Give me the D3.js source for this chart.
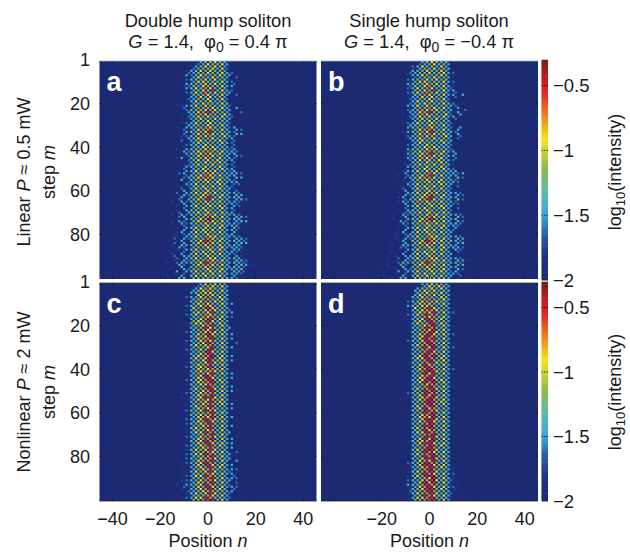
<!DOCTYPE html>
<html><head><meta charset="utf-8">
<script src="https://cdnjs.cloudflare.com/ajax/libs/d3/7.8.5/d3.min.js"></script>
<style>html,body{margin:0;background:#fff}svg{display:block}text{font-family:"Liberation Sans",Arial,sans-serif;fill:#1a1a1a}</style>
</head><body><div id="c"></div>
<script>
// Each row lists the lit cells of that step m (the pattern is a checkerboard):
// even m: n = -18,-16,...  odd m: n = -19,-17,...  Digit = intensity level.
const rowsA = [
"00000000345643000000","00000002365463000000","00000013564653100000","00000023546362000000","00000134656543000000",
"00000235365463200000","00000324653564300000","00001036546453020000","00000245364635100000","00000036645463200000",
"00000345465643020000","00001253674563300000","00000346476354000000","00000035658463200000","00000236475634300000",
"00000154763563020000","00000033646453000000","00000235463562000000","00000136546343000000","00000034654564100000",
"00001346365435200000","00002035476463030000","00000245764653300000","00000336587453002000","00001035764536300000",
"00000246465463200000","00000134653654300000","00000035465343000000","00001236546453200000","00000345365463000000",
"00010345476534230000","00002036575463032000","00000354768453320000","00002036476564043000","00001245765346320000",
"00000346356453300000","00002034645563020000","00000136454364200000","00000235365343020000","00001034656453200000",
"00010354465634230000","00003246575463320000","00000345676563340000","00001236476454032000","00013045765363320000",
"00000246465643300000","00000035364564020000","00001246546353200000","00000345365463020000","00002034654563300000",
"00010346365634230000","00023035476453332000","00010245676463340000","00002346576354043000","00003045765463320000",
"00001235564653330000","00000336345464022000","00010245656353200000","00002036464563310000","00003045365453020000",
"00020346465634332000","00013245675463043000","00003054678463343000","00020346586354034200","00103245764563332000",
"00003045465453320000","00010346356564032000","00002035645463300000","00010345465353020000","00020346364564300000",
"00103245465634332000","00024035576463043200","00010354678453343000","00032046476564034300","00103245764653332000",
"00002035465463330000","00010346364564042000","00003045656353320000","00013046465463031000","00102335365453310000",
"00010346456634332000","00203245576463043200","00013054687563343200","00203046576454034300","00104345765363343000",
"00032035465463332000","00010346356564043100","00002045646353321000","00103046465463320000","00203345365453031000",
"00020346456634343100","00103245576463043200","01024354687453343200","00032046576564034310","00104035765453343200",
"01003245465463334100","00030346356564143200","00102045646353332000","01003046465463031000","00033045365453320000"];
const rowsB = [
"00000000356534000000","00000002346453000000","00000023645463000000","00000103546354000000","00000034565463000000",
"00000235464563200000","00000134653564000000","00000023546453100000","00000245364635000000","00000136645463200000",
"00000345465643000000","00000253674563100000","00000236476354200000","00000035658463300000","00000246475634020000",
"00000154763563303000","00000133646453020000","00000235463562000000","00000036546343100000","00000234654564200000",
"00000346365435320000","00000135476463030000","00000245764653300200","00000336587453040000","00001035764536203000",
"00000246465463300000","00000134653654020000","00000035465343000000","00001236546453200000","00000345365463000000",
"00000345476534203000","00000136575463030000","00001354768453320000","00001036476564040000","00000245765346302000",
"00001346356453020000","00000034645563300000","00000136454364000000","00000235365343200000","00000034656453000000",
"00000354465634200000","00001246575463300000","00000345678563030000","00001236476454300000","00000345765363020000",
"00000246465643200000","00000035364564000000","00001246546353100000","00000345365463000000","00001034654563200000",
"00001346365634330000","00003035476453323000","00010245678463330000","00002346576354042000","00001045765463320000",
"00001235564653320000","00000336345464300000","00010245656353020000","00002036464563200000","00003045365453000000",
"00010346465634332000","00003245675463032000","00013054678463330000","00002346586354042000","00013245764563320000",
"00003045465453220000","00000346356564300000","00002035645463020000","00010345465353200000","00002346364564010000",
"00103245465634332000","00014035576463042000","00100354678453340000","00032046476564032000","00003245764653342000",
"00002035465463320000","00010346364564031000","00003045656353200000","00013046465463300000","00102335365453010000",
"00010346456634332000","00103245576463043000","00013054687563432000","01003046576454034000","00104345765363330000",
"00022035465463332000","00010346356564032000","01002045646353020000","00103046465463300000","00103345365453010000",
"01020346456634332000","00103245576463043100","00024354687453342000","10032046576564034000","01004035765453330000",
"00103245465463042000","10030346356564231000","00102045646353320000","10003046465463302000","01033045365453010000"];
const rowsC = [
"00000000364653000000","00000012456363000000","00000013646543000000","00000035675463000000","00000034566453000000",
"00000016576543000000","00000243655364000000","00000035475463000000","00000145674653000000","00000036567463300000",
"00000245676354000000","00000063586453000000","00000135467653200000","00000046568463300000","00000236576534000000",
"00000143567463200000","00000034678563000000","00000056486453000000","00000136675364000000","00000145678463000000",
"00001034586543300000","00000045768463000000","00000243567654000000","00000036586463300000","00000045768534000000",
"00000036578463300000","00000243676534000000","00000035687463020000","00000146567354000000","00000045568463300000",
"00000234658534000000","00000035486463000000","00000143678543000000","00000046578563300000","00000036568364000000",
"00000054687463300000","00000143568654000000","00000036574563000000","00000245678434000000","00000036567463000000",
"00000035657653000000","00000145768463300000","00000034687543000000","00000036586453300000","00000245678564000000",
"00000036578463000000","00000143667534000000","00000045587463300000","00000036578654000000","00000043678463300000",
"00001245657534000000","00000036758463000000","00001034688654000000","00000146567463000000","00000035768564000000",
"00000043657463300000","00000136578534000000","00000036567453300000","00000245687634000000","00000034578463000000",
"00000145657543000000","00000036768463300000","00000243687654000000","00000036586463000000","00000245678534000000",
"00000034657463300000","00000146578354000000","00000045567463000000","00000136687543300000","00000034578463000000",
"00000243657654000000","00000036758463300000","00000145687534000000","00000036486463300000","00000235678564000000",
"00000034657453300000","00000146568634000000","00000035576463020000","00000236687543300000","00000054578463000000",
"00000243657654300000","00000036758463030000","00001245687534000000","00000136486463300000","00001035678564000000",
"00000034657453320000","00000146568634200000","00000035576463300000","00001236687543020000","00000054578463320000",
"00001243657654300000","00000136758463020000","00010345687534200000","00002136486463320000","00001035678564020000",
"00000234657453300000","00000146568634200000","00000035576463000000","00001236687543200000","00000054578463000000"];
const rowsD = [
"00000000346543000000","00000000364653000000","00000003546463000000","00000034656354000000","00000004565463000000",
"00000036476543000000","00000043654365000000","00000025475463000000","00000245674653000000","00000036567463000000",
"00000345665354000000","00000063786453100000","00000135677653000000","00000036768463200000","00000236587534000000",
"00000043767463000000","00000134687563100000","00000056487453000000","00000036578364000000","00000135678463100000",
"00000034587543000000","00000145768463000000","00000043578654000000","00000036786463200000","00000045687534000000",
"00000036878463000000","00000243687534000000","00000135787463100000","00000046578354000000","00000035868463200000",
"00000034578534000000","00000135786463000000","00000043587543000000","00000046878563100000","00000036687364000000",
"00000054787463000000","00000043578654000000","00000136864563000000","00000045587434000000","00000036787463200000",
"00000035588653000000","00000045868463100000","00000034678543000000","00000036786453000000","00000045688564000000",
"00000136878463000000","00000043567534000000","00000045787463100000","00000036578654000000","00000043878463000000",
"00000245587534000000","00000036868463000000","00000134678654000000","00000046787463100000","00000035588564000000",
"00000043787463000000","00000036578534000000","00000036867453100000","00000045587634000000","00000034878463000000",
"00000145678543000000","00000036768463000000","00000043688654000000","00000136786463100000","00000045578534000000",
"00000034887463000000","00000046578354000000","00000045867463000000","00000036687543100000","00000034778463000000",
"00000043588654000000","00000036868463000000","00000145678534000000","00000036886463100000","00000035578564000000",
"00000034787453000000","00000046588634000000","00000135876463000000","00000036578543100000","00000054878463000000",
"00000043688654100000","00000036768463000000","00000245587534000000","00000136886463000000","00000035678564100000",
"00000034787453100000","00000146578634000000","00000035876463200000","00000136588543000000","00000054768463100000",
"00000243678654200000","00000036868463010000","00000345587534100000","00000136786463200000","00000035688564010000",
"00000234787453100000","00000146578634200000","00000035876463000000","00000136678543100000","00000054778463000000"];

const levelValues = [-2,-1.8,-1.62,-1.47,-1.3,-1.15,-0.93,-0.75,-0.55,-0.42];
const positionN = d3.range(-45,46);
const stepsM = d3.range(1,101);
const xTicks = [-40,-20,0,20,40], xTicksRight = [-20,0,20,40];
const yTicks = [1,20,40,60,80];
const cbTicks = [-0.5,-1,-1.5,-2];
const cbStops = [-2,-1.82,-1.65,-1.5,-1.32,-1.15,-1.0,-0.92,-0.75,-0.55,-0.42,-0.31];
const cbColors = ["#1b2a72","#1f3384","#2a5fa8","#37a9dc","#5cbaa6","#8cb94c","#cfd62c","#f6e51c","#f0891f","#e01f26","#b81c22","#6f1a1a"];
const color = d3.scaleLinear().domain(cbStops).range(cbColors).clamp(true);

const svg = d3.select("#c").append("svg").attr("width",630).attr("height",552);
const defs = svg.append("defs");

const xL=[99.5,321], xW=217, yT=[61,283], yH=218;
const panels=[
 {rows:rowsA,c:0,r:0,label:"a"},{rows:rowsB,c:1,r:0,label:"b"},
 {rows:rowsC,c:0,r:1,label:"c"},{rows:rowsD,c:1,r:1,label:"d"}];

panels.forEach((p,i)=>{
  const x=d3.scaleBand().domain(positionN).range([xL[p.c],xL[p.c]+xW]);
  const y=d3.scaleBand().domain(stepsM).range([yT[p.r],yT[p.r]+yH]);
  const xl=d3.scaleLinear().domain([-45.5,45.5]).range(x.range());
  const yl=d3.scaleLinear().domain([0.5,100.5]).range(y.range());
  const cells=[];
  p.rows.forEach((s,ri)=>{
    const m=ri+1, start=m%2===0?-18:-19;
    [...s].forEach((ch,k)=>{ if(+ch>0) cells.push({n:start+2*k,m,v:levelValues[+ch]}); });
  });
  const id="clip"+i;
  defs.append("clipPath").attr("id",id).append("rect")
    .attr("x",xL[p.c]).attr("y",yT[p.r]).attr("width",xW).attr("height",yH);
  const g=svg.append("g");
  g.append("rect").attr("x",xL[p.c]).attr("y",yT[p.r]).attr("width",xW).attr("height",yH).attr("fill",color(-2));
  g.append("g").attr("clip-path",`url(#${id})`)
    .selectAll("rect").data(cells).join("rect")
    .attr("x",d=>x(d.n)).attr("y",d=>y(d.m))
    .attr("width",x.bandwidth()).attr("height",y.bandwidth())
    .attr("fill",d=>color(d.v));
  const bot=yT[p.r]+yH, right=xL[p.c]+xW;
  g.append("g").selectAll("line").data(xTicks).join("line")
    .attr("x1",d=>xl(d)).attr("x2",d=>xl(d)).attr("y1",bot).attr("y2",bot-2)
    .attr("stroke","#111").attr("stroke-width",0.8);
  g.append("g").selectAll("line").data(xTicks).join("line")
    .attr("x1",d=>xl(d)).attr("x2",d=>xl(d)).attr("y1",yT[p.r]).attr("y2",yT[p.r]+2)
    .attr("stroke","#111").attr("stroke-width",0.8);
  g.append("g").selectAll("line").data(yTicks).join("line")
    .attr("x1",xL[p.c]).attr("x2",xL[p.c]+2).attr("y1",d=>yl(d)).attr("y2",d=>yl(d))
    .attr("stroke","#111").attr("stroke-width",0.8);
  g.append("g").selectAll("line").data(yTicks).join("line")
    .attr("x1",right-2).attr("x2",right).attr("y1",d=>yl(d)).attr("y2",d=>yl(d))
    .attr("stroke","#111").attr("stroke-width",0.8);
  g.append("line").attr("x1",xL[p.c]).attr("x2",right).attr("y1",yT[p.r]).attr("y2",yT[p.r]).attr("stroke",p.r?"#333":"#aab").attr("stroke-width",0.8);
  if(p.r===1) g.append("line").attr("x1",xL[p.c]).attr("x2",right).attr("y1",bot).attr("y2",bot).attr("stroke","#222").attr("stroke-width",0.8);
  g.append("text").attr("x",xL[p.c]+7).attr("y",yT[p.r]+30).text(p.label)
    .style("font-size","27px").style("font-weight","bold").style("fill","#fff");
  if(p.c===0){
    svg.append("g").selectAll("text").data(yTicks).join("text")
      .attr("x",90).attr("y",d=>yl(d)+(d===1?4:6.5)).attr("text-anchor","end").text(d=>d)
      .style("font-size","18px");
  }
  if(p.r===1){
    svg.append("g").selectAll("text").data(p.c===0?xTicks:xTicksRight).join("text")
      .attr("x",d=>xl(d)).attr("y",525).attr("text-anchor","middle").text(d=>d<0?"\u2212"+(-d):d)
      .style("font-size","18px");
    const t=svg.append("text").attr("x",xL[p.c]+xW/2).attr("y",547).attr("text-anchor","middle").style("font-size","18px");
    t.append("tspan").text("Position ");
    t.append("tspan").text("n").style("font-style","italic");
  }
});

function title(cx,l1,phi){
  svg.append("text").attr("x",cx).attr("y",27).attr("text-anchor","middle").text(l1).style("font-size","18.3px");
  const t=svg.append("text").attr("x",cx).attr("y",48).attr("text-anchor","middle").style("font-size","18.3px").attr("xml:space","preserve");
  t.append("tspan").text("G").style("font-style","italic");
  t.append("tspan").text(" = 1.4,  \u03C6");
  t.append("tspan").text("0").attr("dy",4).style("font-size","14px");
  t.append("tspan").text(" = "+phi+" \u03C0").attr("dy",-4);
}
title(208,"Double hump soliton","0.4");
title(429,"Single hump soliton","\u22120.4");

function rowLabel(cy,a,b){
  const t=svg.append("text").attr("transform",`translate(30,${cy}) rotate(-90)`).attr("text-anchor","middle").style("font-size","18px");
  t.append("tspan").text(a+" ");
  t.append("tspan").text("P").style("font-style","italic");
  t.append("tspan").text(" \u2248 "+b);
  const s=svg.append("text").attr("transform",`translate(55,${cy}) rotate(-90)`).attr("text-anchor","middle").style("font-size","18px");
  s.append("tspan").text("step ");
  s.append("tspan").text("m").style("font-style","italic");
}
rowLabel(172,"Linear","0.5 mW");
rowLabel(392,"Nonlinear","2 mW");

const cbV=d3.range(-2,-0.31,0.02);
[0,1].forEach(r=>{
  const yc=d3.scaleLinear().domain([-2,-0.31]).range([yT[r]+yH+(r?0:1),yT[r]]);
  const g=svg.append("g");
  g.selectAll("rect").data(cbV).join("rect")
    .attr("x",541.5).attr("width",6.5)
    .attr("y",d=>yc(d+0.02)).attr("height",d=>yc(d)-yc(d+0.02)+0.5)
    .attr("fill",d=>color(d));
  g.append("g").selectAll("line").data(cbTicks.slice(0,3)).join("line")
    .attr("x1",541.5).attr("x2",548).attr("y1",d=>yc(d)).attr("y2",d=>yc(d))
    .attr("stroke","#111").attr("stroke-width",0.8).attr("stroke-dasharray","1.5 1");
  svg.append("g").selectAll("text").data(cbTicks).join("text")
    .attr("x",553).attr("y",d=>yc(d)+6.5).text(d=>"\u2212"+(-d))
    .style("font-size","18.5px");
  const t=svg.append("text").attr("transform",`translate(621,${r?392:172}) rotate(-90)`).attr("text-anchor","middle").style("font-size","18px");
  t.append("tspan").text("log");
  t.append("tspan").text("10").attr("dy",4).style("font-size","13px");
  t.append("tspan").text("(intensity)").attr("dy",-4);
});
</script></body></html>
